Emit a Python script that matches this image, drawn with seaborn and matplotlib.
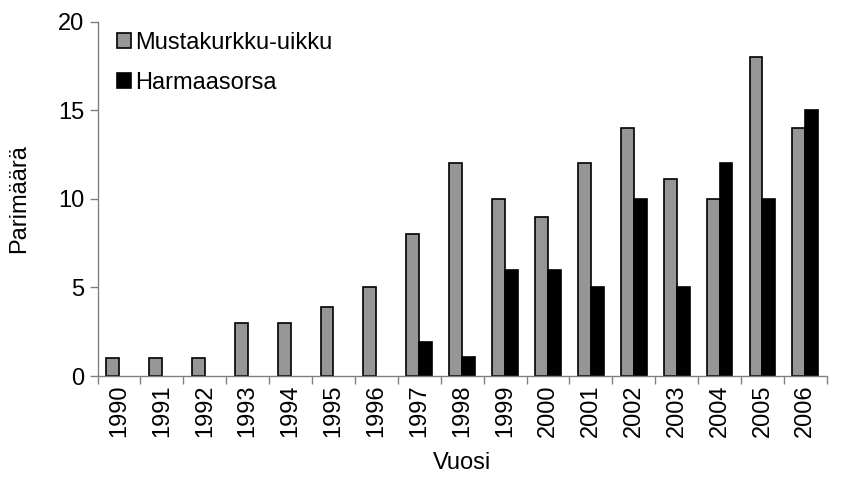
import pandas as pd
import numpy as np
import matplotlib.pyplot as plt
import seaborn as sns

years = [str(y) for y in range(1990, 2007)]
uikku = [1, 1, 1, 3, 3, 3.9, 5, 8, 12, 10, 9, 12, 14, 11.1, 10, 18, 14]
sorsa = [0, 0, 0, 0, 0, 0, 0, 1.9, 1.1, 6, 6, 5, 10, 5, 12, 10, 15]
series = ['Mustakurkku-uikku', 'Harmaasorsa']

df = pd.DataFrame({
    'Vuosi': years * 2,
    'Parimäärä': uikku + sorsa,
    'laji': [series[0]] * len(years) + [series[1]] * len(years),
})

sns.set_style('white')
plt.rcParams['font.family'] = ['Liberation Sans', 'DejaVu Sans']
plt.rcParams['text.color'] = 'black'
plt.rcParams['axes.labelcolor'] = 'black'
plt.rcParams['xtick.labelcolor'] = 'black'
plt.rcParams['ytick.labelcolor'] = 'black'
fs = 17

fig, ax = plt.subplots(figsize=(8.48, 4.79), dpi=100)
sns.barplot(data=df, x='Vuosi', y='Parimäärä', hue='laji', hue_order=series,
            palette=['#969696', '#000000'], width=0.6, dodge=True,
            edgecolor='black', linewidth=1.2, saturation=1, ax=ax)

# zero-height bars should not leave an outline on the axis
for p in ax.patches:
    if p.get_height() == 0:
        p.set_linewidth(0)

ax.set_ylim(0, 20)
ax.set_xlim(-0.5, len(years) - 0.5)
ax.set_yticks([0, 5, 10, 15, 20])
ax.tick_params(axis='y', labelsize=fs, length=6, width=1, color='#808080', left=True, direction='out')
ax.tick_params(axis='x', which='major', labelsize=fs, length=0, rotation=90, pad=6)
ax.set_xticks(np.arange(-0.5, len(years), 1.0), minor=True)
ax.tick_params(axis='x', which='minor', length=6, width=1, color='#808080', bottom=True, direction='out')

for s in ['top', 'right']:
    ax.spines[s].set_visible(False)
for s in ['left', 'bottom']:
    ax.spines[s].set_color('#808080')
    ax.spines[s].set_linewidth(1)

ax.set_xlabel('Vuosi', fontsize=fs, labelpad=11)
ax.set_ylabel('Parimäärä', fontsize=fs, labelpad=20)

leg = ax.legend(loc='upper left', bbox_to_anchor=(-0.003, 1.03), frameon=False, fontsize=fs,
                handlelength=0.6, handleheight=0.6, handletextpad=0.2, labelspacing=0.75)
for h in leg.legend_handles:
    h.set_edgecolor('black')
    h.set_linewidth(1.2)

plt.subplots_adjust(left=0.115, right=0.975, top=0.955, bottom=0.215)
plt.savefig('out.png', dpi=100)
